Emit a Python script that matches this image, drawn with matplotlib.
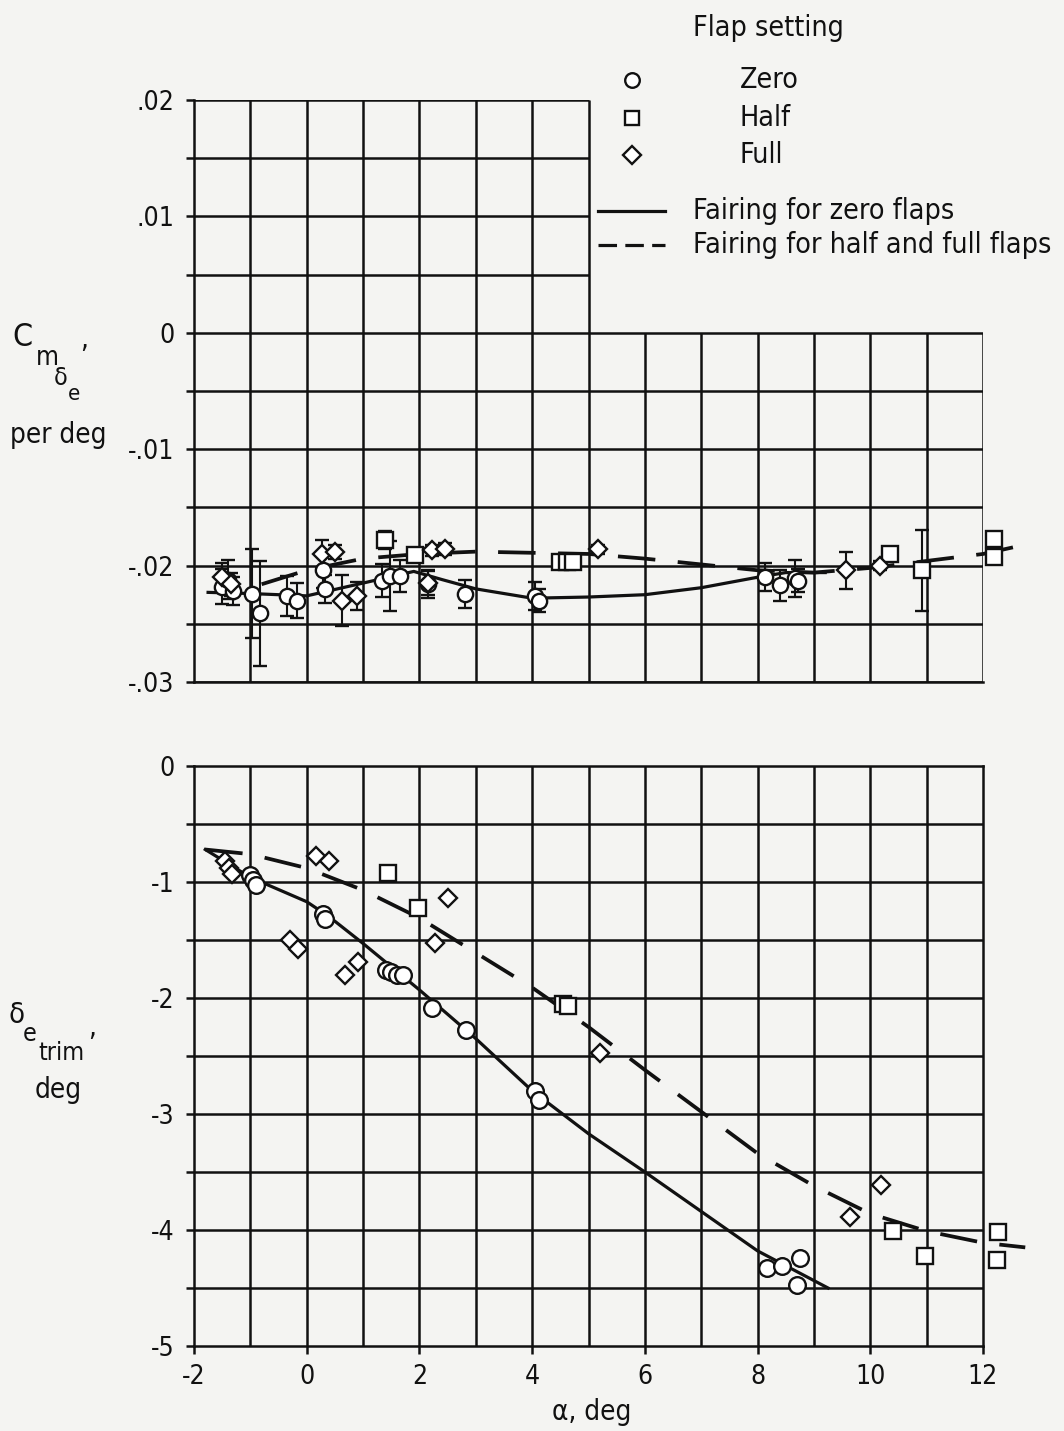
import matplotlib
matplotlib.use("Agg")
import matplotlib.pyplot as plt
from matplotlib.lines import Line2D

plt.rcParams['font.family'] = ['DejaVu Sans']
plt.rcParams['font.stretch'] = 'condensed'

# ---- data ----
# upper panel: Cm_delta_e, per deg, with scatter bars
zero_top_x = [-1.5, -1.4, -1.3, -0.97, -0.83, -0.35, -0.17, 0.29, 0.32, 1.34,
              1.48, 1.66, 2.15, 2.81, 4.05, 4.12, 8.13, 8.40, 8.66, 8.72]
zero_top_y = [-0.0218, -0.0212, -0.0222, -0.0224, -0.0241, -0.0226, -0.0230,
              -0.0204, -0.0220, -0.0213, -0.0209, -0.0209, -0.0216, -0.0224,
              -0.0226, -0.0230, -0.0210, -0.0217, -0.0211, -0.0213]
zero_top_err = [0.0015, 0.0017, 0.0012, 0.0038, 0.0045, 0.0017, 0.0015, 0.0015,
                0.0012, 0.0014, 0.0030, 0.0014, 0.0012, 0.0012, 0.0012, 0.0010,
                0.0012, 0.0013, 0.0016, 0.0010]

half_top_x = [1.39, 1.92, 4.50, 4.62, 4.72, 10.35, 10.92, 12.2, 12.2]
half_top_y = [-0.0178, -0.0191, -0.0197, -0.0197, -0.0197, -0.0190, -0.0204,
              -0.0177, -0.0193]
half_top_err = [0.0008, 0.0006, 0.0004, 0.0004, 0.0004, 0.0004, 0.0035, 0.0, 0.0]

full_top_x = [-1.5, -1.35, 0.27, 0.50, 0.63, 0.89, 2.15, 2.22, 2.45, 5.17, 9.57, 10.17]
full_top_y = [-0.0210, -0.0216, -0.0190, -0.0188, -0.0230, -0.0226, -0.0215,
              -0.0187, -0.0186, -0.0186, -0.0204, -0.0200]
full_top_err = [0.0012, 0.0010, 0.0012, 0.0006, 0.0022, 0.0012, 0.0010, 0.0005,
                0.0005, 0.0004, 0.0016, 0.0004]

fair0_top_x = [-1.75, -1, 0, 1, 1.9, 2.4, 3, 4, 5, 6, 7, 8, 8.5, 9.2]
fair0_top_y = [-0.0223, -0.0224, -0.0226, -0.0215, -0.0205, -0.0212, -0.0220,
               -0.0228, -0.0227, -0.0225, -0.0219, -0.0210, -0.0206, -0.0206]
fairhf_top_x = [-0.8, 0, 1, 2, 3, 4, 5, 6, 7, 8, 9, 10, 11, 12, 12.75]
fairhf_top_y = [-0.0216, -0.0204, -0.0194, -0.0190, -0.0188, -0.0189, -0.0190,
                -0.0194, -0.0199, -0.0204, -0.0206, -0.0202, -0.0196, -0.0190,
                -0.0182]

# lower panel: delta_e trim, deg
zero_bot_x = [-1.0, -0.95, -0.9, 0.29, 0.32, 1.4, 1.5, 1.6, 1.7, 2.22, 2.83,
              4.05, 4.12, 8.17, 8.43, 8.75, 8.70]
zero_bot_y = [-0.94, -0.98, -1.03, -1.28, -1.32, -1.76, -1.78, -1.80, -1.80,
              -2.09, -2.28, -2.80, -2.88, -4.33, -4.31, -4.24, -4.47]
half_bot_x = [1.44, 1.97, 4.55, 4.64, 10.40, 10.97, 12.27, 12.25]
half_bot_y = [-0.92, -1.22, -2.05, -2.07, -4.01, -4.22, -4.02, -4.26]
full_bot_x = [-1.45, -1.38, -1.32, -0.30, -0.15, 0.16, 0.40, 0.68, 0.91, 2.28,
              2.51, 5.20, 9.64, 10.19]
full_bot_y = [-0.82, -0.88, -0.93, -1.50, -1.58, -0.78, -0.82, -1.80, -1.69,
              -1.53, -1.14, -2.47, -3.89, -3.61]

fair0_bot_x = [-1.8, -1, 0, 0.4, 1, 2, 3, 4, 5, 6, 7, 8, 9.25]
fair0_bot_y = [-0.72, -0.96, -1.17, -1.30, -1.53, -1.93, -2.35, -2.80, -3.17,
               -3.50, -3.84, -4.18, -4.50]
fairhf_bot_x = [-1.8, -1, 0, 1, 2, 3, 4, 5, 6, 7, 8, 9, 10, 11, 12, 12.75]
fairhf_bot_y = [-0.72, -0.76, -0.88, -1.07, -1.31, -1.61, -1.91, -2.25, -2.62,
                -2.98, -3.34, -3.62, -3.86, -4.01, -4.11, -4.15]

top_ticks = [0.02, 0.01, 0.0, -0.01, -0.02, -0.03]
top_labels = ['.02', '.01', '0', '-.01', '-.02', '-.03']
bot_ticks = [0, -1, -2, -3, -4, -5]
bot_labels = ['0', '-1', '-2', '-3', '-4', '-5']
x_ticks = [-2, 0, 2, 4, 6, 8, 10, 12]
x_labels = ['-2', '0', '2', '4', '6', '8', '10', '12']

INK = '#111111'
PAPER = '#f4f4f2'
GLW = 1.8
FS = 19
LFS = 20.5

W, H = 1064, 1431
fig = plt.figure(figsize=(W / 100, H / 100), dpi=100, facecolor=PAPER)


def fpos(x, y):
    return x / W, 1 - y / H


ax1 = fig.add_axes([194 / W, 1 - 682 / H, 789 / W, 582 / H])
ax2 = fig.add_axes([194 / W, 1 - 1346 / H, 789 / W, 580 / H])

for ax in (ax1, ax2):
    ax.set_facecolor(PAPER)
    ax.set_xlim(-2, 12)
    for s in ax.spines.values():
        s.set_linewidth(GLW)
        s.set_color(INK)
    ax.tick_params(colors=INK, width=GLW, length=6, direction='out',
                   labelsize=FS, pad=8)

# upper panel grid: above zero only the left part (legend sits at right)
ax1.set_ylim(-0.03, 0.02)
ax1.spines['top'].set_visible(False)
ax1.spines['right'].set_visible(False)
for gx in range(-1, 13):
    top = 0.02 if gx <= 5 else 0.0
    ax1.vlines(gx, -0.03, top, color=INK, lw=GLW, zorder=1)
for k in range(-6, 5):
    gy = k * 0.005
    right = 12 if gy <= 0 else 5
    ax1.hlines(gy, -2, right, color=INK, lw=GLW, zorder=1)
ax1.set_yticks([k * 0.005 for k in range(-6, 5)], minor=True)
ax1.set_yticks(top_ticks)
ax1.set_yticklabels(top_labels)
ax1.tick_params(axis='y', which='minor', length=6, width=GLW, colors=INK)
ax1.set_xticks([])

# lower panel grid
ax2.set_ylim(-5, 0)
for gx in range(-1, 12):
    ax2.axvline(gx, color=INK, lw=GLW, zorder=1)
for k in range(-9, 0):
    ax2.axhline(k * 0.5, color=INK, lw=GLW, zorder=1)
ax2.set_yticks([k * 0.5 for k in range(-10, 1)], minor=True)
ax2.set_yticks(bot_ticks)
ax2.set_yticklabels(bot_labels)
ax2.set_xticks(x_ticks)
ax2.set_xticklabels(x_labels)
ax2.tick_params(axis='y', which='minor', length=6, width=GLW, colors=INK)
ax2.tick_params(axis='x', pad=7)

mk = dict(mfc='white', mec=INK, mew=1.7, ms=11, ls='none', zorder=4, clip_on=False)
eb = dict(ecolor=INK, elinewidth=1.5, capsize=5, capthick=1.5)

ax1.errorbar(zero_top_x, zero_top_y, yerr=zero_top_err, marker='o', **mk, **eb)
ax1.errorbar(half_top_x, half_top_y, yerr=half_top_err, marker='s', **mk, **eb)
ax1.errorbar(full_top_x, full_top_y, yerr=full_top_err, marker='D',
             **{**mk, 'ms': 9}, **eb)
ax1.plot(fair0_top_x, fair0_top_y, color=INK, lw=2.3, zorder=3)
ax1.plot(fairhf_top_x, fairhf_top_y, color=INK, lw=2.7, dashes=(10, 6),
         zorder=3, clip_on=False)

ax2.plot(zero_bot_x, zero_bot_y, marker='o', **{**mk, 'ms': 12})
ax2.plot(half_bot_x, half_bot_y, marker='s', **mk)
ax2.plot(full_bot_x, full_bot_y, marker='D', **{**mk, 'ms': 9})
ax2.plot(fair0_bot_x, fair0_bot_y, color=INK, lw=2.3, zorder=3)
ax2.plot(fairhf_bot_x, fairhf_bot_y, color=INK, lw=2.7, dashes=(10, 6),
         zorder=3, clip_on=False)

# axis labels built from pieces, like the lettering on the original
def t(x, y, s, size=FS, **kw):
    fig.text(*fpos(x, y), s, fontsize=size, color=INK, va='center', **kw)


t(12, 337, 'C', size=23)
t(36, 358, 'm', size=19)
t(54, 378, 'δ', size=18)
t(68, 394, 'e', size=16)
t(80, 340, ',', size=20)
t(10, 435, 'per deg', size=20)

t(8, 1015, 'δ', size=21)
t(23, 1034, 'e', size=18)
t(38, 1053, 'trim', size=18)
t(88, 1028, ',', size=20)
t(35, 1090, 'deg', size=20)

fig.text(*fpos(592, 1412), 'α, deg', fontsize=20, color=INK, ha='center', va='center')

# legend block
t(693, 28, 'Flap setting', size=LFS)
for yy, m, lab, ms in [(80, 'o', 'Zero', 10.5), (118, 's', 'Half', 10), (155, 'D', 'Full', 9)]:
    fig.add_artist(Line2D([632 / W], [1 - yy / H], marker=m, ms=ms, mfc='white',
                          mec=INK, mew=1.7, ls='none'))
    t(740, yy, lab, size=LFS)
fig.add_artist(Line2D([598 / W, 665 / W], [1 - 211 / H] * 2, color=INK, lw=2.3))
t(693, 211, 'Fairing for zero flaps', size=LFS)
fig.add_artist(Line2D([598 / W, 665 / W], [1 - 245 / H] * 2, color=INK, lw=2.3,
                      dashes=(5.8, 2.6)))
t(693, 245, 'Fairing for half and full flaps', size=LFS)

fig.savefig('out.png', dpi=100, facecolor=PAPER)
